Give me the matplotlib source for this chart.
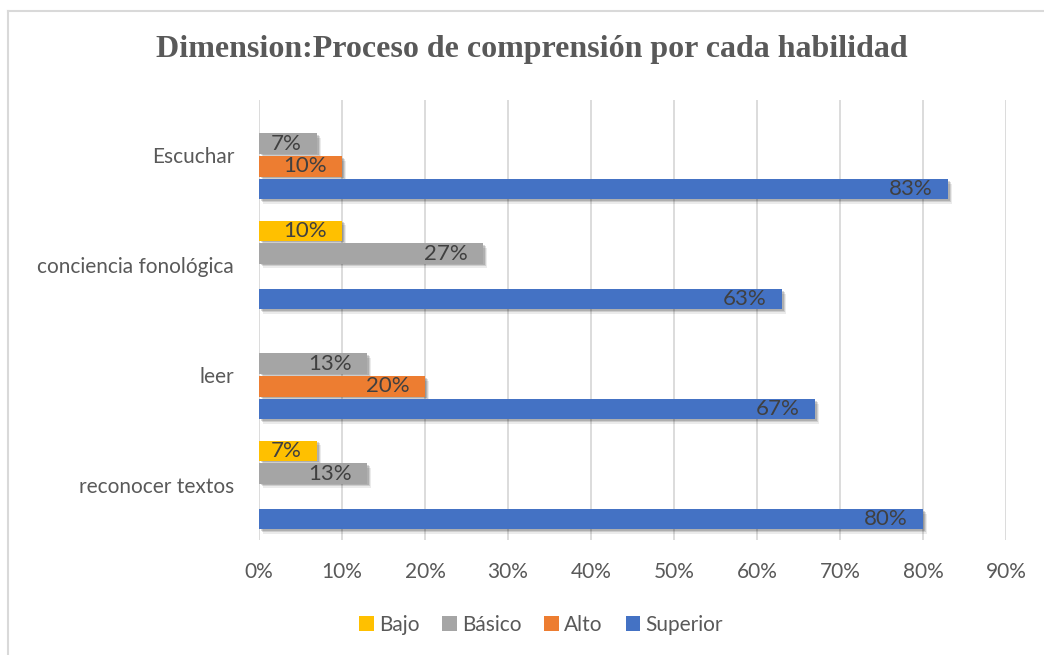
import matplotlib
matplotlib.use("Agg")
import matplotlib.pyplot as plt
import matplotlib.patheffects as pe
from matplotlib.lines import Line2D
from matplotlib.patches import Patch
import numpy as np

categories = ["reconocer textos", "leer", "conciencia fonológica", "Escuchar"]
series_names = ["Bajo", "Básico", "Alto", "Superior"]
bajo = [7, 0, 10, 0]
basico = [13, 13, 27, 7]
alto = [0, 20, 0, 10]
superior = [80, 67, 63, 83]
xticks = [0, 10, 20, 30, 40, 50, 60, 70, 80, 90]
title = "Dimension:Proceso de comprensión por cada habilidad"

colors = ["#FFC000", "#A5A5A5", "#ED7D31", "#4472C4"]
values = [bajo, basico, alto, superior]

plt.rcParams['font.family'] = ['Lato', 'DejaVu Sans']

W, H = 1044, 655
fig = plt.figure(figsize=(W / 100, H / 100), dpi=100)

# outer frame (top + left only visible)
fig.add_artist(Line2D([8 / W, 8 / W], [0, 1 - 11 / H], color="#D9D9D9", lw=1.5, transform=fig.transFigure))
fig.add_artist(Line2D([8 / W, 1], [1 - 11 / H, 1 - 11 / H], color="#D9D9D9", lw=1.5, transform=fig.transFigure))

left, right = 259 / W, 1006 / W
bottom, top = 1 - 540 / H, 1 - 100 / H
ax = fig.add_axes([left, bottom, right - left, top - bottom])

slot = 0.209
bh = 0.182
offsets = [1.5 * slot, 0.5 * slot, -0.5 * slot, -1.5 * slot]
y = np.arange(len(categories))

shadow = [pe.SimplePatchShadow(offset=(3.0, -3.0), shadow_rgbFace="black", alpha=0.08),
          pe.SimplePatchShadow(offset=(2.0, -2.0), shadow_rgbFace="black", alpha=0.12),
          pe.SimplePatchShadow(offset=(1.2, -1.2), shadow_rgbFace="black", alpha=0.15),
          pe.Normal()]

for vals, col, off in zip(values, colors, offsets):
    for yi, v in zip(y, vals):
        if v <= 0:
            continue
        bars = ax.barh(yi + off, v, height=bh, color=col, zorder=3)
        for b in bars:
            b.set_path_effects(shadow)
        ax.annotate(f"{v}%", xy=(v, yi + off), xytext=(-11, 0), textcoords="offset points",
                    ha="right", va="center", fontsize=16, color="#404040", zorder=4)

ax.set_xlim(0, 90)
ax.set_ylim(-0.5, 3.5)
ax.set_xticks(xticks)
ax.set_xticklabels([f"{t}%" for t in xticks], fontsize=15, color="#595959")
ax.set_yticks(y)
ax.set_yticklabels(categories, fontsize=15, color="#595959")
ax.tick_params(axis="both", length=0)
ax.tick_params(axis="x", pad=16)
ax.tick_params(axis="y", pad=18)
for s in ax.spines.values():
    s.set_visible(False)
ax.grid(axis="x", color="#D9D9D9", lw=1.3, zorder=0)
ax.set_axisbelow(True)

fig.text(532 / W, 1 - 49 / H, title, ha="center", va="center", fontsize=23,
         fontweight="bold", family="Liberation Serif", color="#595959")

handles = [Patch(facecolor=c, edgecolor="none") for c in colors]
fig.legend(handles, series_names, loc="center", bbox_to_anchor=(541 / W, 1 - 625 / H),
           ncol=4, frameon=False, fontsize=15, handlelength=0.7, handleheight=0.7,
           handletextpad=0.25, columnspacing=1.1, labelcolor="#595959")

fig.savefig("out.png", dpi=100, facecolor="white")
